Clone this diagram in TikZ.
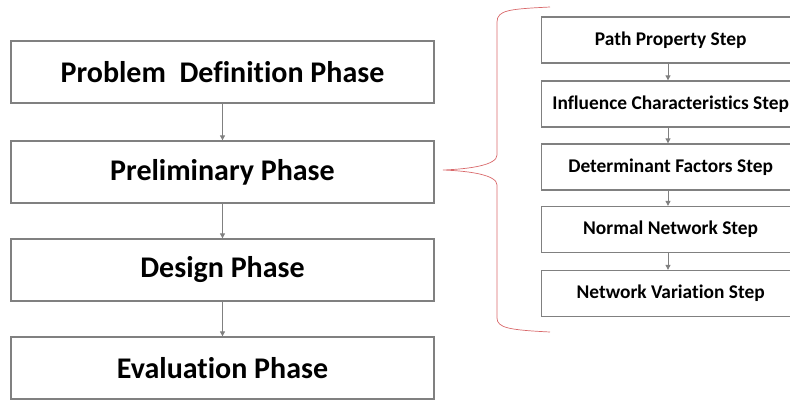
\documentclass[tikz,border=0pt]{standalone}
\usepackage{fontspec}
\setmainfont[Ligatures=CommonOff]{Carlito}
\usetikzlibrary{arrows.meta}
\definecolor{boxgray}{HTML}{808080}
\definecolor{bracered}{HTML}{D9696B}
\tikzset{
  phase/.style={draw=boxgray, line width=1.3pt, fill=white, minimum width=423pt,
    minimum height=62pt, inner sep=0pt, font=\bfseries\fontsize{30}{36}\selectfont},
  stepbox/.style={draw=boxgray, line width=1.3pt, fill=white, minimum width=258pt,
    minimum height=46pt, inner sep=0pt, font=\bfseries\fontsize{19.4}{23}\selectfont},
  flow/.style={draw=boxgray, line width=0.9pt, -{Triangle[length=5pt,width=5pt]}}
}
\begin{document}
\begin{tikzpicture}[x=1pt,y=-1pt]
\useasboundingbox (0,0) rectangle (790,400);
\clip (0,0) rectangle (790,400);
% main phases
\node[phase] (p1) at (222.5,72) {Problem\ \ Definition Phase};
\node[phase] (p2) at (222.5,172) {Preliminary Phase};
\node[phase] (p3) at (222.5,270) {Design Phase};
\node[phase] (p4) at (222.5,368) {Evaluation Phase};
\draw[flow] (p1) -- (p2);
\draw[flow] (p2) -- (p3);
\draw[flow] (p3) -- (p4);
% steps of the preliminary phase
\node[stepbox, anchor=west] (s1) at (541,40) {Path Property Step};
\node[stepbox, anchor=west] (s2) at (541,104) {Influence Characteristics Step};
\node[stepbox, anchor=west] (s3) at (541,167) {Determinant Factors Step};
\node[stepbox, anchor=west] (s4) at (541,229.5) {Normal Network Step};
\node[stepbox, anchor=west] (s5) at (541,293.5) {Network Variation Step};
\draw[flow] (s1.south -| 668,0) -- (s2.north -| 668,0);
\draw[flow] (s2.south -| 668,0) -- (s3.north -| 668,0);
\draw[flow] (s3.south -| 668,0) -- (s4.north -| 668,0);
\draw[flow] (s4.south -| 668,0) -- (s5.north -| 668,0);
% brace grouping the steps
\coordinate (tip) at (443,170);
\draw[bracered, line width=0.7pt]
  (550,7) .. controls (510,9) and (497,10) .. (497,22)
  -- (497,155) .. controls (497,165) and (470,169) .. (tip)
  .. controls (470,171) and (497,175) .. (497,185)
  -- (497,318) .. controls (497,328) and (510,330) .. (550,332);
\end{tikzpicture}
\end{document}
